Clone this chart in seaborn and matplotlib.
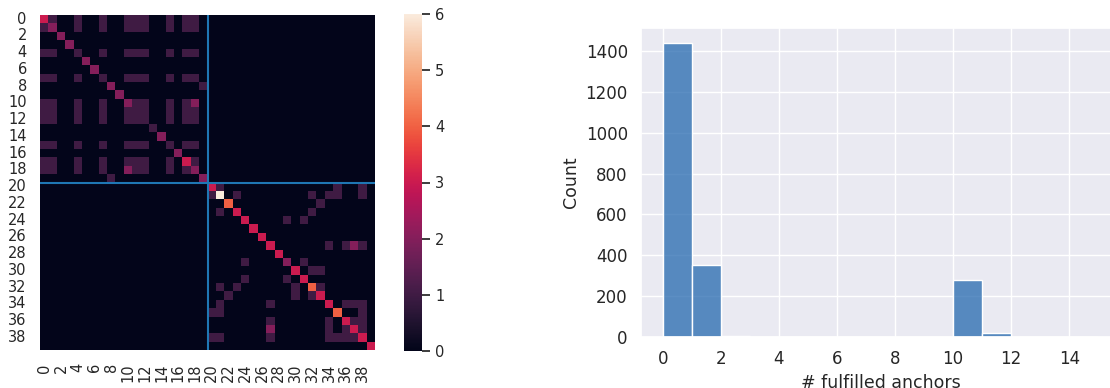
# plot.py
# -------
# Anchor overlap heatmap (left) next to a histogram of fulfilled anchors (right).

import numpy as np
import pandas as pd
import matplotlib
matplotlib.use("Agg")
import matplotlib.pyplot as plt
import seaborn as sns


# ---------------------------------------------------------------------------
# Data
# ---------------------------------------------------------------------------

# 40 x 40 count matrix, one string per row, one digit per cell
overlap_rows = [
    "3100100100111001011000000000000000000000",
    "1200100100111001011000000000000000000000",
    "0020000000000000000000000000000000000000",
    "0002000000000000000000000000000000000000",
    "1100100100111001011000000000000000000000",
    "0000020000000000000000000000000000000000",
    "0000002000000000000000000000000000000000",
    "1100100100111001011000000000000000000000",
    "0000000020000000000100000000000000000000",
    "0000000002000000000000000000000000000000",
    "1100100100211001012000000000000000000000",
    "1100100100111001011000000000000000000000",
    "1100100100111001011000000000000000000000",
    "0000000000000100000000000000000000000000",
    "0000000000000020000000000000000000000000",
    "1100100100111001011000000000000000000000",
    "0000000000000000200000000000000000000000",
    "1100100100111001031000000000000000000000",
    "1100100100211001012000000000000000000000",
    "0000000010000000000200000000000000000000",
    "0000000000000000000031000000000000010010",
    "0000000000000000000016010000000010110010",
    "0000000000000000000000400000000001000000",
    "0000000000000000000001030000000010000000",
    "0000000000000000000000003000010100000000",
    "0000000000000000000000000300000000000000",
    "0000000000000000000000000030000000000000",
    "0000000000000000000000000003000000101210",
    "0000000000000000000000000000300000000000",
    "0000000000000000000000001000020100000000",
    "0000000000000000000000000000003011000000",
    "0000000000000000000000001000010300000000",
    "0000000000000000000001010000001041000000",
    "0000000000000000000000100000001013000000",
    "0000000000000000000001000001000000301110",
    "0000000000000000000011000000000000040010",
    "0000000000000000000000000001000000103110",
    "0000000000000000000000000002000000101310",
    "0000000000000000000011000001000000111130",
    "0000000000000000000000000000000000000003",
]
group_split = 20  # boundary between the two anchor groups

# histogram: count of samples per number of fulfilled anchors (bin width 1)
anchor_bins = list(range(15))
anchor_counts = [1440, 352, 4, 0, 0, 0, 0, 0, 0, 0, 280, 22, 0, 0, 0]

overlap = np.array([[int(ch) for ch in row] for row in overlap_rows])
hist_df = pd.DataFrame({"anchors": np.array(anchor_bins) + 0.5,
                        "count": anchor_counts})


# ---------------------------------------------------------------------------
# Figure
# ---------------------------------------------------------------------------

sns.set_theme(style="darkgrid")
plt.rcParams["font.family"] = ["DejaVu Sans"]

W, H = 1110, 388
fig = plt.figure(figsize=(W / 100, H / 100), dpi=100)

def px_axes(x0, y0, x1, y1):
    # axes from pixel box (top-left origin)
    return fig.add_axes([x0 / W, 1 - y1 / H, (x1 - x0) / W, (y1 - y0) / H])

ax_hm = px_axes(40, 15, 375, 350)
ax_cb = px_axes(404, 14, 422, 351)
ax_hist = px_axes(641, 28, 1120, 337)

# ---------------------------------------------------------------------------
# Left — heatmap with group boundaries
# ---------------------------------------------------------------------------

sns.heatmap(overlap, ax=ax_hm, cbar_ax=ax_cb, vmin=0, vmax=6,
            xticklabels=2, yticklabels=2)
ax_hm.axhline(group_split, color="#1f77b4", lw=1.5)
ax_hm.axvline(group_split, color="#1f77b4", lw=1.5)
ax_hm.tick_params(axis="x", labelsize=10.5, rotation=90)
ax_hm.tick_params(axis="y", labelsize=10.5, rotation=0)
ax_cb.tick_params(labelsize=10.5)

# ---------------------------------------------------------------------------
# Right — histogram of fulfilled anchors
# ---------------------------------------------------------------------------

sns.histplot(data=hist_df, x="anchors", weights="count",
             binwidth=1, binrange=(0, 15), color="#2569af", ax=ax_hist)
ax_hist.set_xticks(range(0, 16, 2))
ax_hist.set_xlabel("# fulfilled anchors", fontsize=12.5)
ax_hist.set_ylabel("Count", fontsize=12.5)
ax_hist.tick_params(labelsize=12)

fig.savefig("out.png", dpi=100)
